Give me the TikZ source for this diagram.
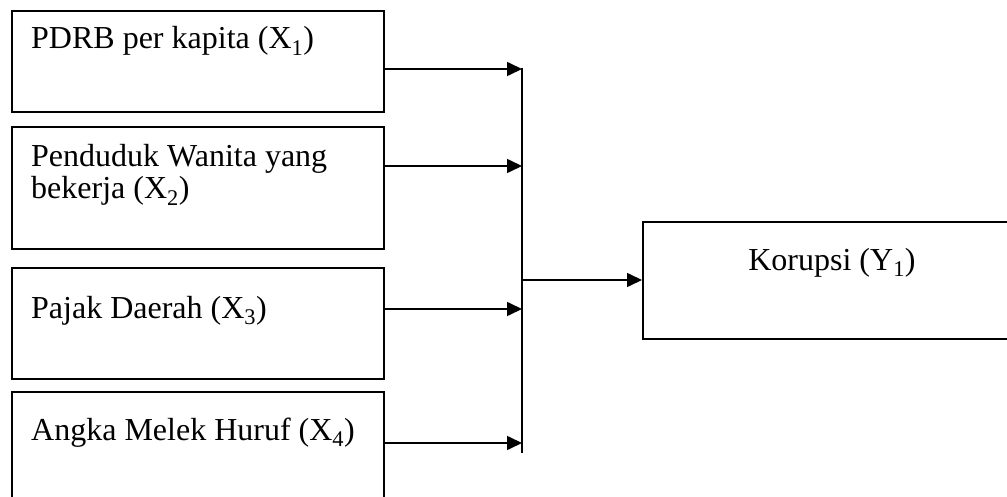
\documentclass[tikz,border=0pt]{standalone}
\usepackage{fontspec}
\setmainfont{Liberation Serif}
\usetikzlibrary{arrows.meta}
\begin{document}
\begin{tikzpicture}[x=1pt,y=-1pt,
  box/.style={draw,line width=1.6pt,rectangle,anchor=north west,inner sep=0pt},
  lbl/.style={anchor=base west,inner sep=0pt,font=\fontsize{32}{36}\selectfont},
  conn/.style={line width=1.6pt},
  arr/.style={conn,-{Triangle[length=15pt,width=14pt]}}]
\useasboundingbox (0,0) rectangle (1007,497);
\clip (0,0) rectangle (1007,497);
\node[box,minimum width=372pt,minimum height=101pt] (b1) at (11,10) {};
\node[box,minimum width=372pt,minimum height=122pt] (b2) at (11,126) {};
\node[box,minimum width=372pt,minimum height=111pt] (b3) at (11,267) {};
\node[box,minimum width=372pt,minimum height=130pt] (b4) at (11,391) {};
\node[box,minimum width=380pt,minimum height=117pt] (y) at (642,221) {};
\node[lbl] (t1) at (31,49) {PDRB per kapita (X\textsubscript{1})};
\node[lbl] (t2a) at (31,167) {Penduduk Wanita yang};
\node[lbl] (t2b) at (31,199) {bekerja (X\textsubscript{2})};
\node[lbl] (t3) at (31,318) {Pajak Daerah (X\textsubscript{3})};
\node[lbl] (t4) at (31,440) {Angka Melek Huruf (X\textsubscript{4})};
\node[anchor=base,inner sep=0pt,font=\fontsize{32}{36}\selectfont] (ty) at (832,270) {Korupsi (Y\textsubscript{1})};
\coordinate (j1) at (522,69);
\coordinate (j2) at (522,166);
\coordinate (j3) at (522,309);
\coordinate (j4) at (522,443);
\coordinate (jt) at (522,68);
\coordinate (jb) at (522,453);
\coordinate (jy) at (522,280);
\draw[arr] (b1.east |- j1) -- (j1);
\draw[arr] (b2.east |- j2) -- (j2);
\draw[arr] (b3.east |- j3) -- (j3);
\draw[arr] (b4.east |- j4) -- (j4);
\draw[conn] (jt) -- (jb);
\draw[arr] (jy) -- (y.west |- jy);
\end{tikzpicture}
\end{document}
